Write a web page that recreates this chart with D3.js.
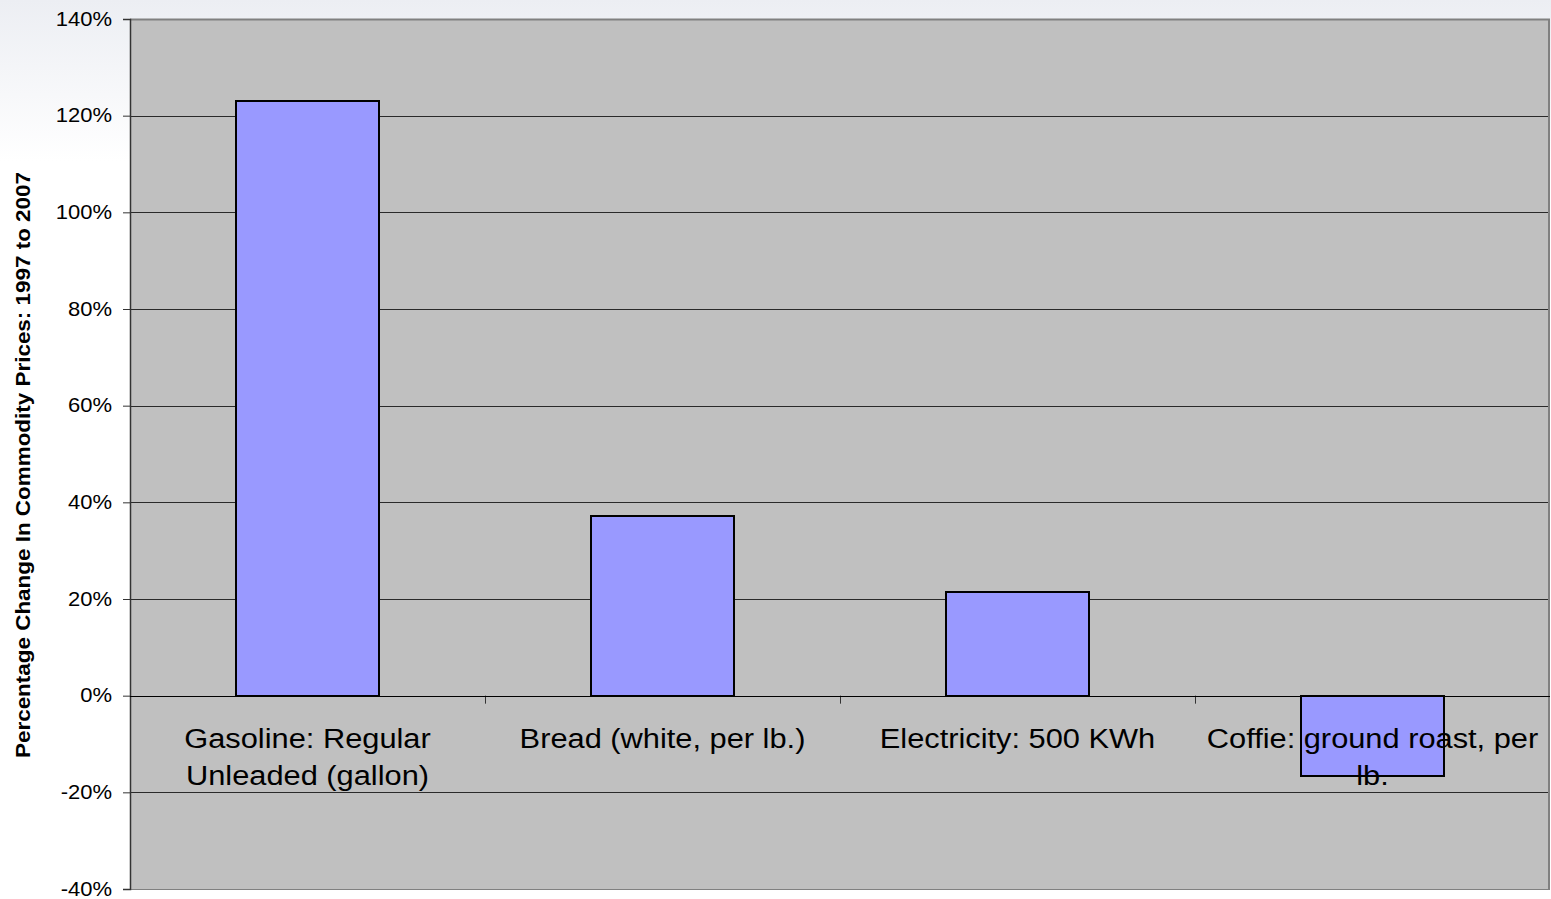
<!DOCTYPE html>
<html>
<head>
<meta charset="utf-8">
<script src="https://cdn.jsdelivr.net/npm/d3@7"></script>
<style>
  html, body { margin: 0; padding: 0; }
  body { width: 1551px; height: 899px; overflow: hidden; background: #ffffff; }
  svg { display: block; }
  text { font-family: "Liberation Sans", Arial, sans-serif; fill: #000; }
</style>
</head>
<body>
<svg id="chart" width="1551" height="899"></svg>
<script>
// Commodity price changes, 1997 to 2007
const categories = [
  "Gasoline: Regular Unleaded (gallon)",
  "Bread (white, per lb.)",
  "Electricity: 500 KWh",
  "Coffie: ground roast, per lb."
];
const changeValues = [1.23, 0.372, 0.215, -0.165];
const yTickValues = [-0.4, -0.2, 0, 0.2, 0.4, 0.6, 0.8, 1.0, 1.2, 1.4];
const yTitle = "Percentage Change In Commodity Prices: 1997 to 2007";

const W = 1551, H = 899;
const margin = { top: 19, right: 1, bottom: 10, left: 130 };
const plotW = W - margin.left - margin.right;
const plotH = H - margin.top - margin.bottom;
const stretch = 1.1; // horizontal text stretch

const svg = d3.select("#chart");

// Page background: soft bluish tint fading to white
const defs = svg.append("defs");
const grad = defs.append("linearGradient")
  .attr("id", "bg").attr("x1", 0).attr("y1", 0).attr("x2", 0).attr("y2", 1);
grad.append("stop").attr("offset", "0").attr("stop-color", "#eceef3");
grad.append("stop").attr("offset", "0.18").attr("stop-color", "#ffffff");
grad.append("stop").attr("offset", "1").attr("stop-color", "#ffffff");
svg.append("rect").attr("width", W).attr("height", H).attr("fill", "url(#bg)");

const x = d3.scaleBand()
  .domain(categories)
  .range([0, plotW])
  .paddingInner(0.597)
  .paddingOuter(0.2985);

const y = d3.scaleLinear()
  .domain([-0.4, 1.4])
  .range([plotH, 0]);

const pct = d3.format(".0%");
const fmt = d => pct(d).replace("\u2212", "-");

const g = svg.append("g").attr("transform", `translate(${margin.left},${margin.top})`);

// Plot area
g.append("rect")
  .attr("width", plotW).attr("height", plotH)
  .attr("fill", "#c0c0c0");

// Horizontal gridlines
g.append("g")
  .selectAll("line")
  .data(yTickValues)
  .join("line")
  .attr("x1", 0).attr("x2", plotW)
  .attr("y1", d => Math.round(y(d)) + 0.5)
  .attr("y2", d => Math.round(y(d)) + 0.5)
  .attr("stroke", d => d === 1.4 ? "none" : "#2a2a2a")
  .attr("stroke-width", 1);

// Frame: grey top/right/bottom edges
g.append("line").attr("x1", 0).attr("x2", plotW).attr("y1", 0.5).attr("y2", 0.5)
  .attr("stroke", "#808080").attr("stroke-width", 2);
g.append("line").attr("x1", plotW - 1).attr("x2", plotW - 1).attr("y1", 0).attr("y2", plotH)
  .attr("stroke", "#808080").attr("stroke-width", 2);
g.append("line").attr("x1", 0).attr("x2", plotW).attr("y1", plotH + 0.5).attr("y2", plotH + 0.5)
  .attr("stroke", "#808080").attr("stroke-width", 1);

// Bars
g.append("g")
  .selectAll("rect")
  .data(categories.map((c, i) => ({ c, v: changeValues[i] })))
  .join("rect")
  .attr("x", d => Math.round(x(d.c)))
  .attr("width", Math.round(x.bandwidth()))
  .attr("y", d => Math.round(y(Math.max(0, d.v))))
  .attr("height", d => Math.round(Math.abs(y(d.v) - y(0))))
  .attr("fill", "#9999ff")
  .attr("stroke", "#000")
  .attr("stroke-width", 2);

// Y axis
const yAxis = d3.axisLeft(y)
  .tickValues(yTickValues)
  .tickFormat(fmt)
  .tickSize(7)
  .tickPadding(10);
const yAxisG = g.append("g").call(yAxis);
yAxisG.select(".domain").attr("stroke", "#333").attr("stroke-width", 1.5);
yAxisG.selectAll(".tick line").attr("stroke", "#333");
yAxisG.selectAll(".tick text")
  .attr("font-size", 20)
  .attr("font-family", "Liberation Sans, Arial, sans-serif")
  .attr("fill", "#000")
  .attr("x", null)
  .attr("dy", "0.3em")
  .attr("transform", `translate(-18,0) scale(${stretch},1)`);

// Category ticks at zero line (band boundaries)
const boundaries = categories.slice(1).map(c => x(c) - x.step() * x.paddingInner() / 2);
g.append("g")
  .selectAll("line")
  .data(boundaries)
  .join("line")
  .attr("x1", d => Math.round(d) + 0.5).attr("x2", d => Math.round(d) + 0.5)
  .attr("y1", y(0)).attr("y2", y(0) + 8)
  .attr("stroke", "#333");

// Zero line
g.append("line")
  .attr("x1", 0).attr("x2", plotW)
  .attr("y1", Math.round(y(0)) + 0.5).attr("y2", Math.round(y(0)) + 0.5)
  .attr("stroke", "#000").attr("stroke-width", 1);

// Category labels, wrapped to the band width
const labelG = g.append("g");
const maxLabelW = x.step() - 8;
categories.forEach(c => {
  const cx = x(c) + x.bandwidth() / 2;
  const words = c.split(" ");
  const lines = [];
  const probe = labelG.append("text").attr("font-size", 28);
  let cur = [];
  words.forEach(w => {
    const test = cur.concat(w).join(" ");
    probe.text(test);
    if (probe.node().getComputedTextLength() * stretch > maxLabelW && cur.length) {
      lines.push(cur.join(" "));
      cur = [w];
    } else {
      cur.push(w);
    }
  });
  if (cur.length) lines.push(cur.join(" "));
  probe.remove();
  lines.forEach((ln, i) => {
    labelG.append("text")
      .attr("transform", `translate(${cx},${y(0) + 52 + i * 37}) scale(${stretch},1)`)
      .attr("text-anchor", "middle")
      .attr("font-size", 28)
      .text(ln);
  });
});

// Y axis title
svg.append("text")
  .attr("transform", `translate(30,465) rotate(-90)`)
  .attr("text-anchor", "middle")
  .attr("font-size", 21)
  .attr("font-weight", "bold")
  .attr("textLength", 586)
  .attr("lengthAdjust", "spacingAndGlyphs")
  .text(yTitle);
</script>
</body>
</html>
